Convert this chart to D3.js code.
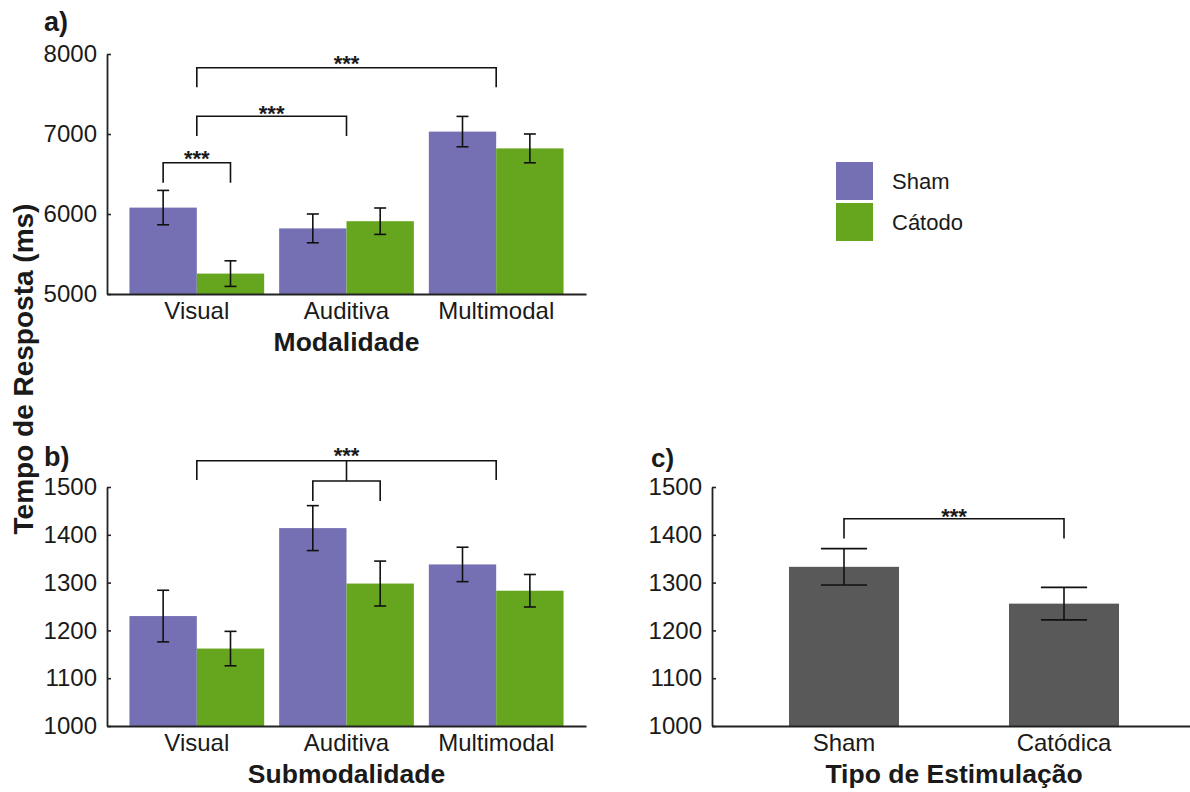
<!DOCTYPE html>
<html>
<head>
<meta charset="utf-8">
<script src="https://cdn.jsdelivr.net/npm/d3@7"></script>
<style>
  body { margin: 0; background: #fff; }
  text { font-family: "Liberation Sans", Arial, sans-serif; fill: #1a1a1a; }
</style>
</head>
<body>
<div id="chart"></div>
<script>
// ---- data ----
const modalidades = ["Visual", "Auditiva", "Multimodal"];
const grupos = ["Sham", "Cátodo"];

// a) Modalidade
const modShamMean = [6080, 5820, 7030];
const modShamErr = [215, 180, 190];
const modCatMean = [5255, 5910, 6820];
const modCatErr = [160, 165, 180];

// b) Submodalidade
const subShamMean = [1230, 1414, 1338];
const subShamErr = [54, 47, 36];
const subCatMean = [1162, 1298, 1283];
const subCatErr = [36, 47, 34];

// c) Tipo de Estimulação
const estimLabels = ["Sham", "Catódica"];
const estimMean = [1333, 1256];
const estimErr = [38, 34];

const yTicksA = [5000, 6000, 7000, 8000];
const yTicksBC = [1000, 1100, 1200, 1300, 1400, 1500];

// significance brackets (y values in data units)
const bracketsA = [
  { from: ["Visual", null], to: ["Multimodal", null], y: 7829, leg: 7584, star: 7950 },
  { from: ["Visual", null], to: ["Auditiva", null], y: 7221, leg: 6975, star: 7325 },
  { from: ["Visual", "Sham"], to: ["Visual", "Cátodo"], y: 6641, leg: 6391, star: 6763 }
];

const colors = { "Sham": "#7570B3", "Cátodo": "#66A61E" };

const W = 1190, H = 792;
const svg = d3.select("#chart").append("svg")
  .attr("width", W).attr("height", H);
svg.append("rect").attr("width", W).attr("height", H).attr("fill", "#fff");

function styleAxis(g) {
  g.select(".domain").attr("stroke", "#222").attr("stroke-width", 1.8);
  g.selectAll(".tick line").attr("stroke", "#222").attr("stroke-width", 1.6);
  g.selectAll(".tick text").attr("font-size", 24).attr("fill", "#1a1a1a")
    .attr("font-family", '"Liberation Sans", Arial, sans-serif');
}

function drawAxes(x, y, ticks, title, x0, x1, yBase) {
  let gy = svg.append("g")
    .attr("transform", `translate(${x0},0)`)
    .call(d3.axisLeft(y).tickValues(ticks).tickFormat(d3.format("d"))
      .tickSize(-4).tickSizeOuter(0).tickPadding(10));
  styleAxis(gy);

  let gx = svg.append("g")
    .attr("transform", `translate(0,${yBase})`)
    .call(d3.axisBottom(x).tickSize(0).tickPadding(8));
  styleAxis(gx);

  svg.append("text")
    .attr("x", (x0 + x1) / 2).attr("y", yBase + 57)
    .attr("text-anchor", "middle")
    .attr("font-size", 26.5).attr("font-weight", "bold")
    .text(title);
}

function errBars(cx, y, mean, err, capW) {
  let g = svg.append("g").attr("stroke", "#111").attr("stroke-width", 1.6);
  mean.forEach((m, i) => {
    let c = cx[i];
    g.append("line").attr("x1", c).attr("x2", c).attr("y1", y(m - err[i])).attr("y2", y(m + err[i]));
    g.append("line").attr("x1", c - capW / 2).attr("x2", c + capW / 2).attr("y1", y(m + err[i])).attr("y2", y(m + err[i]));
    g.append("line").attr("x1", c - capW / 2).attr("x2", c + capW / 2).attr("y1", y(m - err[i])).attr("y2", y(m - err[i]));
  });
}

function bracket(xa, xb, yh, yl, ys, y) {
  let g = svg.append("g");
  g.append("path")
    .attr("d", `M${xa},${y(yl)}V${y(yh)}H${xb}V${y(yl)}`)
    .attr("fill", "none").attr("stroke", "#111").attr("stroke-width", 1.6);
  g.append("text")
    .attr("x", (xa + xb) / 2).attr("y", y(ys) + 13)
    .attr("text-anchor", "middle").attr("font-size", 22).attr("font-weight", "bold")
    .text("***");
}

function drawGrouped(cfg) {
  let x = d3.scaleBand().domain(modalidades)
    .range([cfg.x0, cfg.x1]).paddingInner(0.1).paddingOuter(0.15);
  let xs = d3.scaleBand().domain(grupos).range([0, x.bandwidth()]);
  let y = d3.scaleLinear().domain(cfg.domain).range([cfg.yBase, cfg.yTop]);

  let rows = [];
  modalidades.forEach((m, i) => {
    rows.push({ mod: m, grp: "Sham", v: cfg.sham[i], e: cfg.shamErr[i] });
    rows.push({ mod: m, grp: "Cátodo", v: cfg.cat[i], e: cfg.catErr[i] });
  });

  svg.append("g").selectAll("rect")
    .data(rows)
    .join("rect")
    .attr("x", d => x(d.mod) + xs(d.grp))
    .attr("y", d => y(d.v))
    .attr("width", xs.bandwidth())
    .attr("height", d => cfg.yBase - y(d.v))
    .attr("fill", d => colors[d.grp]);

  errBars(rows.map(d => x(d.mod) + xs(d.grp) + xs.bandwidth() / 2), y,
    rows.map(d => d.v), rows.map(d => d.e), 12);

  drawAxes(x, y, cfg.ticks, cfg.title, cfg.x0, cfg.x1, cfg.yBase);

  svg.append("text")
    .attr("x", 44).attr("y", cfg.letterY)
    .attr("font-size", 27).attr("font-weight", "bold")
    .text(cfg.letter);

  return { x, xs, y };
}

function posX(sc, p) {
  if (p[1] === null) return sc.x(p[0]) + sc.x.bandwidth() / 2;
  return sc.x(p[0]) + sc.xs(p[1]) + sc.xs.bandwidth() / 2;
}

// ---- panel a ----
let scA = drawGrouped({
  x0: 107, x1: 586, yBase: 294, yTop: 54, domain: [5000, 8000],
  sham: modShamMean, shamErr: modShamErr, cat: modCatMean, catErr: modCatErr,
  ticks: yTicksA, title: "Modalidade", letter: "a)", letterY: 31
});
bracketsA.forEach(b => bracket(posX(scA, b.from), posX(scA, b.to), b.y, b.leg, b.star, scA.y));

// ---- panel b ----
let scB = drawGrouped({
  x0: 107, x1: 586, yBase: 726, yTop: 487, domain: [1000, 1500],
  sham: subShamMean, shamErr: subShamErr, cat: subCatMean, catErr: subCatErr,
  ticks: yTicksBC, title: "Submodalidade", letter: "b)", letterY: 466
});
// nested bracket: Auditiva (Sham vs Cátodo) against Visual / Multimodal
{
  let y = scB.y;
  let xa = posX(scB, ["Visual", null]), xb = posX(scB, ["Multimodal", null]);
  let xs1 = posX(scB, ["Auditiva", "Sham"]), xs2 = posX(scB, ["Auditiva", "Cátodo"]);
  let xm = (xa + xb) / 2;
  let g = svg.append("g").attr("fill", "none").attr("stroke", "#111").attr("stroke-width", 1.6);
  g.append("path").attr("d", `M${xa},${y(1514.6)}V${y(1555)}H${xb}V${y(1514.6)}`);
  g.append("path").attr("d", `M${xm},${y(1555)}V${y(1512.6)}`);
  g.append("path").attr("d", `M${xs1},${y(1470.7)}V${y(1512.6)}H${xs2}V${y(1470.7)}`);
  svg.append("text")
    .attr("x", xm).attr("y", y(1577) + 13)
    .attr("text-anchor", "middle").attr("font-size", 22).attr("font-weight", "bold")
    .text("***");
}

// ---- panel c ----
{
  let x0 = 712, x1 = 1196, yBase = 726, yTop = 487;
  let x = d3.scaleBand().domain(estimLabels)
    .range([x0, x1]).paddingInner(0.5).paddingOuter(0.35);
  let y = d3.scaleLinear().domain([1000, 1500]).range([yBase, yTop]);

  svg.append("g").selectAll("rect")
    .data(estimLabels)
    .join("rect")
    .attr("x", d => x(d))
    .attr("y", (d, i) => y(estimMean[i]))
    .attr("width", x.bandwidth())
    .attr("height", (d, i) => yBase - y(estimMean[i]))
    .attr("fill", "#595959");

  let cx = estimLabels.map(d => x(d) + x.bandwidth() / 2);
  errBars(cx, y, estimMean, estimErr, x.bandwidth() * 0.42);
  drawAxes(x, y, yTicksBC, "Tipo de Estimulação", x0, x1, yBase);
  bracket(cx[0], cx[1], 1433.7, 1392, 1450, y);

  svg.append("text")
    .attr("x", 651).attr("y", 467)
    .attr("font-size", 26).attr("font-weight", "bold")
    .text("c)");
}

// ---- legend ----
{
  let lg = svg.append("g").attr("transform", "translate(836,162)");
  grupos.forEach((g, i) => {
    lg.append("rect").attr("x", 0).attr("y", i * 41)
      .attr("width", 37).attr("height", 38).attr("fill", colors[g]);
    lg.append("text").attr("x", 56).attr("y", i * 41 + 19)
      .attr("dy", "0.35em").attr("font-size", 22)
      .text(g);
  });
}

// ---- shared y title ----
svg.append("text")
  .attr("transform", "translate(33,369) rotate(-90)")
  .attr("text-anchor", "middle")
  .attr("font-size", 28).attr("font-weight", "bold")
  .text("Tempo de Resposta (ms)");
</script>
</body>
</html>
